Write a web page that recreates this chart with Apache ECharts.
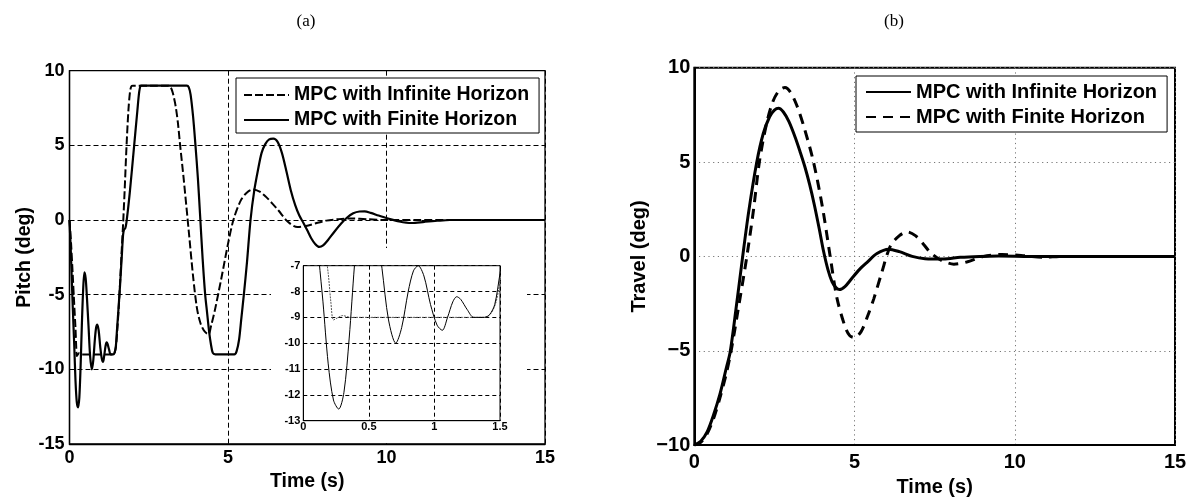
<!DOCTYPE html>
<html>
<head>
<meta charset="utf-8">
<script src="https://cdn.jsdelivr.net/npm/echarts@6/dist/echarts.min.js"></script>
<style>
html,body{margin:0;padding:0;background:#fff;}
#chart{width:1192px;height:502px;}
</style>
</head>
<body>
<div id="chart"></div>
<script>
// ---------- data (time in s, angle in deg) ----------
const legendNames = ['MPC with Infinite Horizon', 'MPC with Finite Horizon'];
const panelTitles = ['(a)', '(b)'];
const xTitle = 'Time (s)';
const yTitlePitch = 'Pitch (deg)';
const yTitleTravel = 'Travel (deg)';

const pitchInfinite = [[0,0],[0.05,-1.6],[0.1,-3.6],[0.15,-5.7],[0.19,-7.3],[0.21,-8.4],[0.23,-9.1],[0.26,-9.02],[0.3,-8.93],[0.36,-9.0],[0.6,-9.0],[0.9,-9.0],[1.2,-9.0],[1.38,-9.0],[1.43,-8.85],[1.47,-8.4],[1.51,-7.3],[1.56,-5.6],[1.61,-3.6],[1.65,-1.9],[1.69,-0.3],[1.74,2.0],[1.80,5.0],[1.86,7.4],[1.91,8.6],[1.95,8.95],[2.0,9.0],[2.6,9.0],[3.12,9.0],[3.19,8.9],[3.26,8.5],[3.35,7.6],[3.42,6.5],[3.49,5.0],[3.6,2.8],[3.76,-0.7],[3.9,-3.8],[4.02,-5.9],[4.13,-6.9],[4.24,-7.4],[4.33,-7.6],[4.39,-7.65],[4.46,-7.15],[4.6,-5.9],[4.8,-3.8],[5.0,-1.6],[5.17,0.0],[5.4,1.3],[5.6,1.85],[5.79,2.05],[6.0,1.9],[6.2,1.55],[6.4,1.1],[6.6,0.62],[6.88,-0.1],[7.19,-0.47],[7.5,-0.38],[7.8,-0.2],[8.1,-0.04],[8.5,0.06],[8.9,0.1],[9.4,0.05],[10.0,0.0],[11,0],[12,0],[13.5,0],[15,0]];

const pitchFinite = [[0,0],[0.04,-2.0],[0.08,-4.5],[0.12,-6.8],[0.15,-8.4],[0.19,-10.8],[0.23,-12.2],[0.27,-12.55],[0.31,-11.9],[0.35,-9.8],[0.39,-7.0],[0.43,-4.7],[0.47,-3.5],[0.51,-3.9],[0.55,-5.2],[0.6,-7.1],[0.65,-9.1],[0.705,-10.0],[0.75,-9.4],[0.8,-8.0],[0.84,-7.2],[0.876,-7.0],[0.92,-7.4],[0.97,-8.5],[1.02,-9.3],[1.06,-9.5],[1.1,-9.0],[1.14,-8.4],[1.17,-8.2],[1.2,-8.3],[1.25,-8.7],[1.3,-9.0],[1.38,-9.0],[1.42,-8.9],[1.46,-8.5],[1.5,-7.3],[1.55,-5.8],[1.6,-4.2],[1.65,-2.4],[1.69,-1.0],[1.72,-0.65],[1.76,-0.55],[1.8,-0.1],[1.9,1.8],[2.04,5.0],[2.14,7.3],[2.2,8.6],[2.25,9.0],[2.3,9.0],[3.0,9.0],[3.7,9.0],[3.76,8.9],[3.82,8.4],[3.9,6.9],[3.97,5.1],[4.05,2.8],[4.12,0.3],[4.2,-2.6],[4.28,-5.0],[4.34,-6.2],[4.4,-7.4],[4.46,-8.3],[4.52,-8.9],[4.6,-9.0],[5.0,-9.0],[5.2,-9.0],[5.27,-8.8],[5.35,-8.0],[5.42,-6.6],[5.5,-5.0],[5.6,-2.8],[5.71,0.0],[5.83,2.0],[5.95,3.4],[6.06,4.5],[6.18,5.1],[6.3,5.4],[6.43,5.45],[6.56,5.25],[6.7,4.5],[6.85,3.2],[6.98,2.0],[7.12,1.0],[7.25,0.3],[7.38,-0.2],[7.5,-0.69],[7.62,-1.2],[7.75,-1.6],[7.88,-1.8],[8.0,-1.7],[8.15,-1.35],[8.35,-0.8],[8.57,-0.24],[8.75,0.15],[8.95,0.45],[9.15,0.57],[9.31,0.58],[9.5,0.48],[9.75,0.3],[10.05,0.1],[10.4,-0.1],[10.79,-0.2],[11.2,-0.12],[11.6,-0.05],[12,0],[13,0],[14,0],[15,0]];

const travelInfinite = [[0,-10],[0.2,-9.8],[0.4,-9.3],[0.6,-8.4],[0.8,-7.3],[1.0,-5.9],[1.12,-5.06],[1.3,-2.8],[1.51,0],[1.7,2.4],[1.95,5.0],[2.15,6.5],[2.35,7.4],[2.5,7.75],[2.63,7.85],[2.78,7.65],[2.95,7.15],[3.15,6.3],[3.3,5.55],[3.45,4.75],[3.6,3.8],[3.75,2.7],[3.9,1.45],[4.03,0.3],[4.17,-0.7],[4.3,-1.35],[4.42,-1.65],[4.53,-1.76],[4.7,-1.6],[4.9,-1.2],[5.15,-0.7],[5.4,-0.3],[5.7,0.15],[6.06,0.385],[6.4,0.25],[6.8,0.0],[7.2,-0.12],[7.78,-0.14],[8.3,-0.05],[8.9,0],[9.5,0.02],[10.5,0],[12,0],[15,0]];

const travelFinite = [[0,-10],[0.2,-9.85],[0.4,-9.4],[0.6,-8.6],[0.8,-7.5],[1.0,-6.2],[1.15,-5.0],[1.35,-3.0],[1.64,0],[1.85,2.5],[2.03,5.0],[2.25,7.0],[2.45,8.2],[2.65,8.8],[2.83,8.95],[3.0,8.7],[3.2,8.0],[3.45,6.7],[3.72,5.0],[4.0,2.6],[4.24,0],[4.45,-2.2],[4.7,-3.7],[4.85,-4.2],[5.0,-4.3],[5.2,-4.0],[5.4,-3.2],[5.6,-2.25],[5.85,-0.85],[6.12,0.56],[6.4,1.1],[6.64,1.3],[6.9,1.1],[7.15,0.65],[7.37,0.2],[7.7,-0.2],[8.1,-0.41],[8.5,-0.3],[9.03,0],[9.6,0.1],[10.2,0.05],[10.85,-0.05],[11.5,0],[15,0]];

// ---------- chart ----------
const SANS = "'Liberation Sans', Arial, sans-serif";
const SERIF = "'Liberation Serif', 'Times New Roman', serif";
const chart = echarts.init(document.getElementById('chart'), null, {renderer: 'canvas'});

const rightPrefix = 'Travel ';

const option = {
  animation: false,
  backgroundColor: '#fff',
  title: [
    {text: panelTitles[0], left: 296.5, top: 13, padding: 0,
     textStyle: {fontFamily: SERIF, fontWeight: 'normal', fontSize: 17, color: '#000'}},
    {text: panelTitles[1], left: 884, top: 13, padding: 0,
     textStyle: {fontFamily: SERIF, fontWeight: 'normal', fontSize: 17, color: '#000'}}
  ],
  grid: [
    {left: 69.5, top: 70.7, width: 475.5, height: 373.3, show: true, borderColor: '#000', borderWidth: 1.3, backgroundColor: '#fff'},
    {left: 694.3, top: 67.7, width: 480.7, height: 379.3, show: true, borderColor: '#000', borderWidth: 2, backgroundColor: '#fff'},
    {left: 303.3, top: 265.7, width: 196.7, height: 155, show: true, borderColor: '#000', borderWidth: 1, backgroundColor: '#fff', z: 10}
  ],
  graphic: [
    {type: 'rect', shape: {x: 271, y: 248, width: 256, height: 195}, style: {fill: '#fff'}, z: 5, silent: true}
  ],
  legend: [
    {
      data: legendNames, orient: 'vertical', left: 236, top: 78,
      padding: [7, 10, 3, 7], itemGap: 5, itemWidth: 45, itemHeight: 20,
      backgroundColor: '#fff', borderColor: '#000', borderWidth: 1, borderRadius: 0,
      itemStyle: {opacity: 0, borderWidth: 0},
      textStyle: {fontFamily: SANS, fontWeight: 'bold', fontSize: 19.5, color: '#000', lineHeight: 20},
      selectedMode: false
    },
    {
      data: legendNames.map(n => rightPrefix + n), orient: 'vertical', left: 856, top: 76,
      padding: [6, 10, 5, 9], itemGap: 5, itemWidth: 45, itemHeight: 20,
      backgroundColor: '#fff', borderColor: '#000', borderWidth: 1, borderRadius: 0,
      itemStyle: {opacity: 0, borderWidth: 0},
      formatter: n => n.replace(rightPrefix, ''),
      textStyle: {fontFamily: SANS, fontWeight: 'bold', fontSize: 20, color: '#000', lineHeight: 20},
      selectedMode: false
    }
  ],
  xAxis: [
    {gridIndex: 0, type: 'value', min: 0, max: 15, interval: 5,
     name: xTitle, nameLocation: 'middle', nameGap: 25,
     nameTextStyle: {fontFamily: SANS, fontWeight: 'bold', fontSize: 19.5, color: '#000'},
     axisLine: {onZero: false, lineStyle: {color: '#000', width: 1.3}}, axisTick: {show: false},
     axisLabel: {fontFamily: SANS, fontWeight: 'bold', fontSize: 18, color: '#000', margin: 5},
     splitLine: {show: true, lineStyle: {color: '#000', width: 1, type: [5, 3]}}},
    {gridIndex: 1, type: 'value', min: 0, max: 15, interval: 5,
     name: xTitle, nameLocation: 'middle', nameGap: 29,
     nameTextStyle: {fontFamily: SANS, fontWeight: 'bold', fontSize: 20, color: '#000'},
     axisLine: {onZero: false, lineStyle: {color: '#000', width: 2}}, axisTick: {show: false},
     axisLabel: {fontFamily: SANS, fontWeight: 'bold', fontSize: 20, color: '#000', margin: 7},
     splitLine: {show: true, lineStyle: {color: '#777', width: 1, type: [1.2, 3.5]}}},
    {gridIndex: 2, type: 'value', min: 0, max: 1.5, interval: 0.5, z: 10,
     axisLine: {onZero: false, lineStyle: {color: '#000', width: 1}}, axisTick: {show: false},
     axisLabel: {fontFamily: SANS, fontWeight: 'bold', fontSize: 11, color: '#000', margin: 1},
     splitLine: {show: true, lineStyle: {color: '#000', width: 1, type: [4, 3]}}}
  ],
  yAxis: [
    {gridIndex: 0, type: 'value', min: -15, max: 10, interval: 5,
     name: yTitlePitch, nameLocation: 'middle', nameGap: 34, nameRotate: 90,
     nameTextStyle: {fontFamily: SANS, fontWeight: 'bold', fontSize: 19.5, color: '#000'},
     axisLine: {show: true, onZero: false, lineStyle: {color: '#000', width: 1.3}}, axisTick: {show: false},
     axisLabel: {fontFamily: SANS, fontWeight: 'bold', fontSize: 18, color: '#000', margin: 5},
     splitLine: {show: true, lineStyle: {color: '#000', width: 1, type: [5, 3]}}},
    {gridIndex: 1, type: 'value', min: -10, max: 10, interval: 5,
     name: yTitleTravel, nameLocation: 'middle', nameGap: 45, nameRotate: 90,
     nameTextStyle: {fontFamily: SANS, fontWeight: 'bold', fontSize: 20, color: '#000'},
     axisLine: {show: true, onZero: false, lineStyle: {color: '#000', width: 2}}, axisTick: {show: false},
     axisLabel: {fontFamily: SANS, fontWeight: 'bold', fontSize: 20, color: '#000', margin: 4,
                 formatter: v => String(v).replace('-', '\u2212')},
     splitLine: {show: true, lineStyle: {color: '#777', width: 1, type: [1.2, 3.5]}}},
    {gridIndex: 2, type: 'value', min: -13, max: -7, interval: 1, z: 10,
     axisLine: {show: true, onZero: false, lineStyle: {color: '#000', width: 1}}, axisTick: {show: false},
     axisLabel: {fontFamily: SANS, fontWeight: 'bold', fontSize: 11, color: '#000', margin: 3},
     splitLine: {show: true, lineStyle: {color: '#000', width: 1, type: [4, 3]}}}
  ],
  series: [
    {name: legendNames[0], type: 'line', xAxisIndex: 0, yAxisIndex: 0, data: pitchInfinite,
     symbol: 'none', smooth: 0.3, lineStyle: {color: '#000', width: 2, type: [8, 3]}, itemStyle: {color: '#000'}},
    {name: legendNames[1], type: 'line', xAxisIndex: 0, yAxisIndex: 0, data: pitchFinite,
     symbol: 'none', smooth: 0.3, lineStyle: {color: '#000', width: 2.2, type: 'solid'}, itemStyle: {color: '#000'}},
    {name: rightPrefix + legendNames[0], type: 'line', xAxisIndex: 1, yAxisIndex: 1, data: travelInfinite,
     symbol: 'none', smooth: 0.3, lineStyle: {color: '#000', width: 3, type: 'solid'}, itemStyle: {color: '#000'}},
    {name: rightPrefix + legendNames[1], type: 'line', xAxisIndex: 1, yAxisIndex: 1, data: travelFinite,
     symbol: 'none', smooth: 0.3, lineStyle: {color: '#000', width: 3, type: [10, 7]}, itemStyle: {color: '#000'}},
    {name: 'inset infinite', type: 'line', xAxisIndex: 2, yAxisIndex: 2, data: pitchInfinite, z: 11,
     symbol: 'none', smooth: 0.3, clip: true, lineStyle: {color: '#555', width: 1, type: [2, 1]}},
    {name: 'inset finite', type: 'line', xAxisIndex: 2, yAxisIndex: 2, data: pitchFinite, z: 12,
     symbol: 'none', smooth: 0.3, clip: true, lineStyle: {color: '#000', width: 1, type: 'solid'}}
  ]
};
chart.setOption(option);
</script>
</body>
</html>
